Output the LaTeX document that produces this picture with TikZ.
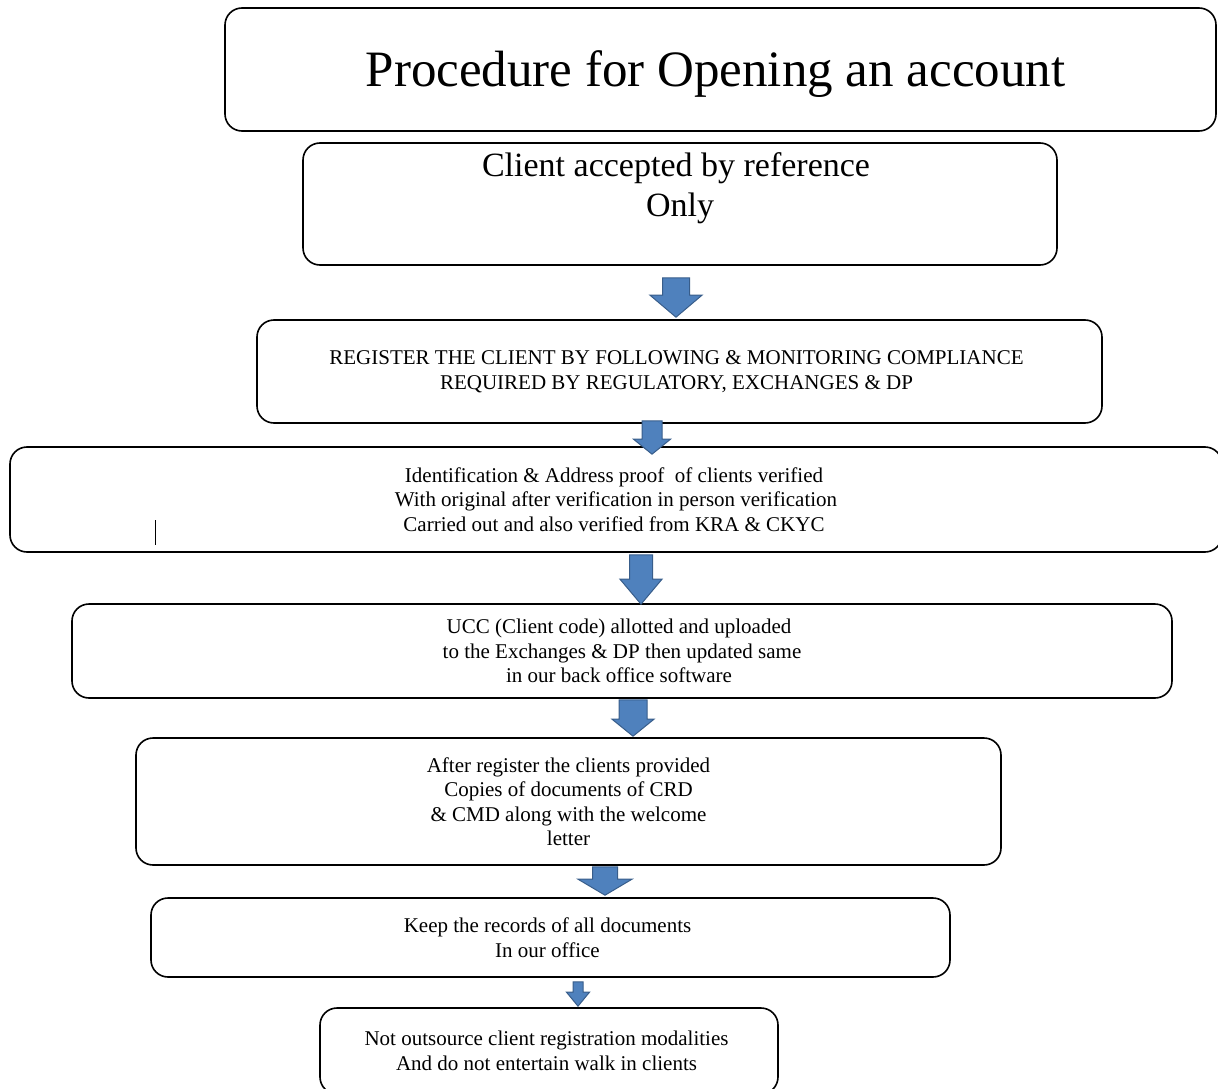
\documentclass[tikz,border=0pt]{standalone}
\usepackage{fontspec}
\setmainfont{Liberation Serif}
\usetikzlibrary{calc}
\definecolor{arrowblue}{HTML}{4F81BD}
\definecolor{arrowedge}{HTML}{385D8A}
% #1 from node, #2 to node, #3 centre x, #4 top offset, #5 tip offset, #6 head length, #7 shaft width, #8 head width
\newcommand\blockarrow[8]{%
  \coordinate (ax) at (#3,0);
  \coordinate (atop) at ([yshift=-#4pt]ax |- #1.south);
  \coordinate (atip) at ([yshift=-#5pt]ax |- #2.north);
  \coordinate (abase) at ([yshift=#6pt]atip);
  \draw[barrow] ([xshift=-#7pt/2]atop) -- ([xshift=#7pt/2]atop)
     -- ([xshift=#7pt/2]atop |- abase) -- ([xshift=#8pt/2]abase)
     -- (atip) -- ([xshift=-#8pt/2]abase)
     -- ([xshift=-#7pt/2]atop |- abase) -- cycle;}
\begin{document}
\begin{tikzpicture}[x=1pt,y=-1pt,
  box/.style={draw=black, line width=1.6pt, rounded corners=17pt, align=center,
    inner sep=0pt, font=\fontsize{21}{24.5}\selectfont},
  barrow/.style={fill=arrowblue, draw=arrowedge, line width=1pt, line join=miter}]
\useasboundingbox (0,0) rectangle (1218,1089);
\clip (0,0) rectangle (1218,1089);

\node[box, minimum width=991pt, minimum height=123pt, font=\fontsize{51}{60}\selectfont]
  (t) at (720.5,69.5) {\raisebox{-5pt}[\height][\depth]{Procedure for Opening an account}\hspace*{10pt}};
\node[box, minimum width=754pt, minimum height=122pt, font=\fontsize{34}{40}\selectfont]
  (b2) at (680,204) {Client accepted by reference\hspace*{8pt}\\Only\hspace*{8pt}\\[-14pt]\strut};
\node[box, minimum width=845pt, minimum height=103pt] (b3) at (679.5,371.5)
  {REGISTER THE CLIENT BY FOLLOWING \& MONITORING COMPLIANCE\hspace*{6pt}\\REQUIRED BY REGULATORY, EXCHANGES \& DP\hspace*{6pt}};
\node[box, minimum width=1212pt, minimum height=105pt] (b4) at (616,499.5)
  {Identification \& Address proof\ \ of clients verified\hspace*{4pt}\\With original after verification in person verification\hspace*{4pt}\\Carried out and also verified from KRA \& CKYC\hspace*{4pt}};
\node[box, minimum width=1100pt, minimum height=94pt] (b5) at (622,651)
  {UCC (Client code) allotted and uploaded\hspace*{6pt}\\to the Exchanges \& DP then updated same\hspace*{6pt}\\in our back office software\hspace*{6pt}};
\node[box, minimum width=865pt, minimum height=127pt] (b6) at (568.5,801.5)
  {After register the clients provided\\Copies of documents of CRD\\\& CMD along with the welcome\\letter};
\node[box, minimum width=799pt, minimum height=79pt] (b7) at (550.5,937.5)
  {Keep the records of all documents\hspace*{6pt}\\In our office\hspace*{6pt}};
\node[box, minimum width=458pt, minimum height=86pt] (b8) at (549,1051)
  {Not outsource client registration modalities\hspace*{5pt}\\And do not entertain walk in clients\hspace*{5pt}};

\draw[line width=1pt] (155,520) -- (155,545);

\blockarrow{b2}{b3}{676}{12}{-2}{22}{27}{52}
\blockarrow{b3}{b4}{652}{-3}{8}{15}{20}{37}
\blockarrow{b4}{b5}{641}{2}{1}{25}{23}{42}
\blockarrow{b5}{b6}{633}{1}{-1}{17}{28}{42}
\blockarrow{b6}{b7}{605}{1}{-2}{16}{25}{54}
\blockarrow{b7}{b8}{578}{4}{-1}{14}{10}{23}
\end{tikzpicture}
\end{document}
